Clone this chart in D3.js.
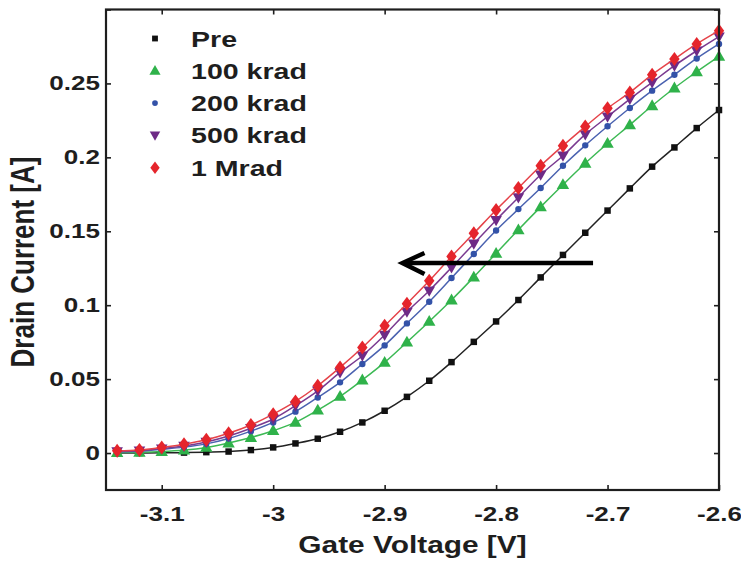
<!DOCTYPE html>
<html>
<head>
<meta charset="utf-8">
<script src="https://cdn.jsdelivr.net/npm/d3@7"></script>
<style>
  html, body { margin: 0; padding: 0; background: #fff; }
  svg { display: block; }
  text { font-family: "Liberation Sans", Arial, Helvetica, sans-serif; font-weight: bold; fill: #1e1e1e; }
</style>
</head>
<body>
<svg id="chart" width="741" height="561"></svg>
<script>
// Gate voltage sweep (V), one sample every 20 mV
const gateVoltage = [-3.14, -3.12, -3.10, -3.08, -3.06, -3.04, -3.02, -3.00, -2.98, -2.96,
                     -2.94, -2.92, -2.90, -2.88, -2.86, -2.84, -2.82, -2.80, -2.78, -2.76,
                     -2.74, -2.72, -2.70, -2.68, -2.66, -2.64, -2.62, -2.60];

// Drain current (A) for each dose step
const currentPre = [0.0000, 0.0000, 0.0002, 0.0003, 0.0006, 0.0010, 0.0020, 0.0038, 0.0065, 0.0097,
                    0.0144, 0.0207, 0.0286, 0.0380, 0.0489, 0.0615, 0.0752, 0.0890, 0.1035, 0.1188,
                    0.1340, 0.1490, 0.1640, 0.1790, 0.1937, 0.2067, 0.2198, 0.2320];
const current100k = [0.0003, 0.0005, 0.0010, 0.0020, 0.0038, 0.0068, 0.0105, 0.0151, 0.0207, 0.0290,
                     0.0383, 0.0494, 0.0613, 0.0750, 0.0890, 0.1035, 0.1190, 0.1350, 0.1510, 0.1665,
                     0.1815, 0.1960, 0.2094, 0.2220, 0.2349, 0.2469, 0.2579, 0.2683];
const current200k = [0.0008, 0.0012, 0.0025, 0.0040, 0.0062, 0.0098, 0.0148, 0.0207, 0.0280, 0.0376,
                     0.0478, 0.0602, 0.0728, 0.0877, 0.1023, 0.1184, 0.1346, 0.1505, 0.1650, 0.1793,
                     0.1943, 0.2081, 0.2210, 0.2334, 0.2451, 0.2559, 0.2669, 0.2767];
const current500k = [0.0010, 0.0015, 0.0030, 0.0048, 0.0075, 0.0115, 0.0168, 0.0230, 0.0320, 0.0421,
                     0.0545, 0.0658, 0.0798, 0.0955, 0.1098, 0.1255, 0.1416, 0.1575, 0.1729, 0.1882,
                     0.2011, 0.2155, 0.2275, 0.2394, 0.2507, 0.2620, 0.2721, 0.2816];
const current1M = [0.0015, 0.0020, 0.0038, 0.0060, 0.0090, 0.0134, 0.0190, 0.0263, 0.0349, 0.0455,
                   0.0579, 0.0714, 0.0861, 0.1010, 0.1165, 0.1330, 0.1486, 0.1644, 0.1793, 0.1943,
                   0.2079, 0.2208, 0.2332, 0.2439, 0.2559, 0.2665, 0.2767, 0.2857];

const seriesNames = ["Pre", "100 krad", "200 krad", "500 krad", "1 Mrad"];

// Axis ticks
const xTicks = [-3.1, -3.0, -2.9, -2.8, -2.7, -2.6];
const xTickLabels = ["-3.1", "-3", "-2.9", "-2.8", "-2.7", "-2.6"];
const yTicks = [0, 0.05, 0.1, 0.15, 0.2, 0.25, 0.3];
const yTickLabels = ["0", "0.05", "0.1", "0.15", "0.2", "0.25", ""];

// Shift arrow annotation (data units)
const arrowFrom = [-2.713, 0.1285];
const arrowTo = [-2.884, 0.1285];

const styles = [
  { color: "#111111", line: "#222222", shape: "square" },
  { color: "#2fb24a", line: "#3cb954", shape: "triangle" },
  { color: "#3352a8", line: "#4a62b0", shape: "circle" },
  { color: "#6e2a86", line: "#7a3a90", shape: "triangleDown" },
  { color: "#e5252c", line: "#e5434a", shape: "diamond" }
];
const seriesValues = [currentPre, current100k, current200k, current500k, current1M];

const SX = 1.27; // horizontal text stretch

const svg = d3.select("#chart");
const plotLeft = 106, plotRight = 719, plotTop = 9.5, plotBottom = 490;

const x = d3.scaleLinear().domain([-3.15, -2.6]).range([plotLeft, plotRight]);
const y = d3.scaleLinear().domain([-0.025, 0.3]).range([plotBottom, plotTop]);

function markerPath(shape) {
  switch (shape) {
    case "square": return d3.symbol(d3.symbolSquare, 42)();
    case "triangle": return "M0,-6.4L6.2,4.4L-6.2,4.4Z";
    case "circle": return d3.symbol(d3.symbolCircle, 32)();
    case "triangleDown": return "M0,6L5.8,-4.2L-5.8,-4.2Z";
    case "diamond": return "M0,-7L5.2,0L0,7L-5.2,0Z";
  }
}

// Curves
const line = d3.line()
  .x(d => x(d[0]))
  .y(d => y(d[1]))
  .curve(d3.curveCatmullRom.alpha(0.5));

const plot = svg.append("g");
seriesValues.forEach((vals, i) => {
  const pts = gateVoltage.map((v, k) => [v, vals[k]]);
  const st = styles[i];
  plot.append("path")
    .attr("d", line(pts))
    .attr("fill", "none")
    .attr("stroke", st.line)
    .attr("stroke-width", 1.5);
  plot.selectAll(null)
    .data(pts)
    .enter()
    .append("path")
    .attr("d", markerPath(st.shape))
    .attr("transform", d => `translate(${x(d[0])},${y(d[1])})`)
    .attr("fill", st.color);
});

// Axes: ticks pointing inward on all four sides
const xAxis = d3.axisBottom(x).tickValues(xTicks)
  .tickFormat((d, i) => xTickLabels[i]).tickSizeInner(-5).tickSizeOuter(0).tickPadding(16);
const yAxis = d3.axisLeft(y).tickValues(yTicks)
  .tickFormat((d, i) => yTickLabels[i]).tickSizeInner(-5).tickSizeOuter(0).tickPadding(6);
const xTop = d3.axisTop(x).tickValues(xTicks).tickFormat("").tickSizeInner(-5).tickSizeOuter(0);
const yRight = d3.axisRight(y).tickValues(yTicks).tickFormat("").tickSizeInner(-5).tickSizeOuter(0);

function styleAxis(g) {
  g.select(".domain").remove();
  g.selectAll(".tick line").attr("stroke", "#1e1e1e").attr("stroke-width", 1.6);
  g.selectAll(".tick text").attr("font-size", 20.5).attr("fill", "#1e1e1e");
}

const gx = svg.append("g").attr("transform", `translate(0,${plotBottom})`).call(xAxis).call(styleAxis);
gx.selectAll(".tick text").attr("transform", `scale(${SX},1)`);

const gy = svg.append("g").attr("transform", `translate(${plotLeft},0)`).call(yAxis).call(styleAxis);
gy.selectAll(".tick text").each(function () {
  const t = d3.select(this);
  t.attr("x", +t.attr("x") / SX).attr("transform", `scale(${SX},1)`);
});

svg.append("g").attr("transform", `translate(0,${plotTop})`).call(xTop).call(styleAxis);
svg.append("g").attr("transform", `translate(${plotRight},0)`).call(yRight).call(styleAxis);

// Frame
svg.append("rect")
  .attr("x", plotLeft).attr("y", plotTop)
  .attr("width", plotRight - plotLeft).attr("height", plotBottom - plotTop)
  .attr("fill", "none").attr("stroke", "#1e1e1e").attr("stroke-width", 2.2);

// Axis titles
svg.append("text")
  .attr("transform", `translate(${(plotLeft + plotRight) / 2},553) scale(${SX},1)`)
  .attr("text-anchor", "middle")
  .attr("font-size", 23.5)
  .text("Gate Voltage [V]");

svg.append("text")
  .attr("transform", `translate(34,262) scale(${SX},1) rotate(-90)`)
  .attr("text-anchor", "middle")
  .attr("font-size", 26)
  .text("Drain Current [A]");

// Legend
const legend = svg.append("g");
seriesNames.forEach((name, i) => {
  const ly = 38.5 + i * 32.3;
  legend.append("path")
    .attr("d", markerPath(styles[i].shape))
    .attr("transform", `translate(155,${ly}) scale(0.9)`)
    .attr("fill", styles[i].color);
  legend.append("text")
    .attr("transform", `translate(191,${ly + 8}) scale(${SX},1)`)
    .attr("font-size", 22.5)
    .text(name);
});

// Shift arrow
const ax0 = x(arrowFrom[0]), ay0 = y(arrowFrom[1]);
const ax1 = x(arrowTo[0]), ay1 = y(arrowTo[1]);
svg.append("line")
  .attr("x1", ax0).attr("y1", ay0).attr("x2", ax1 + 2).attr("y2", ay1)
  .attr("stroke", "#000").attr("stroke-width", 4.5);
svg.append("path")
  .attr("d", `M${ax1 + 22},${ay1 - 10}L${ax1},${ay1}L${ax1 + 22},${ay1 + 11}`)
  .attr("fill", "none").attr("stroke", "#000").attr("stroke-width", 4.5)
  .attr("stroke-linejoin", "miter");
</script>
</body>
</html>
